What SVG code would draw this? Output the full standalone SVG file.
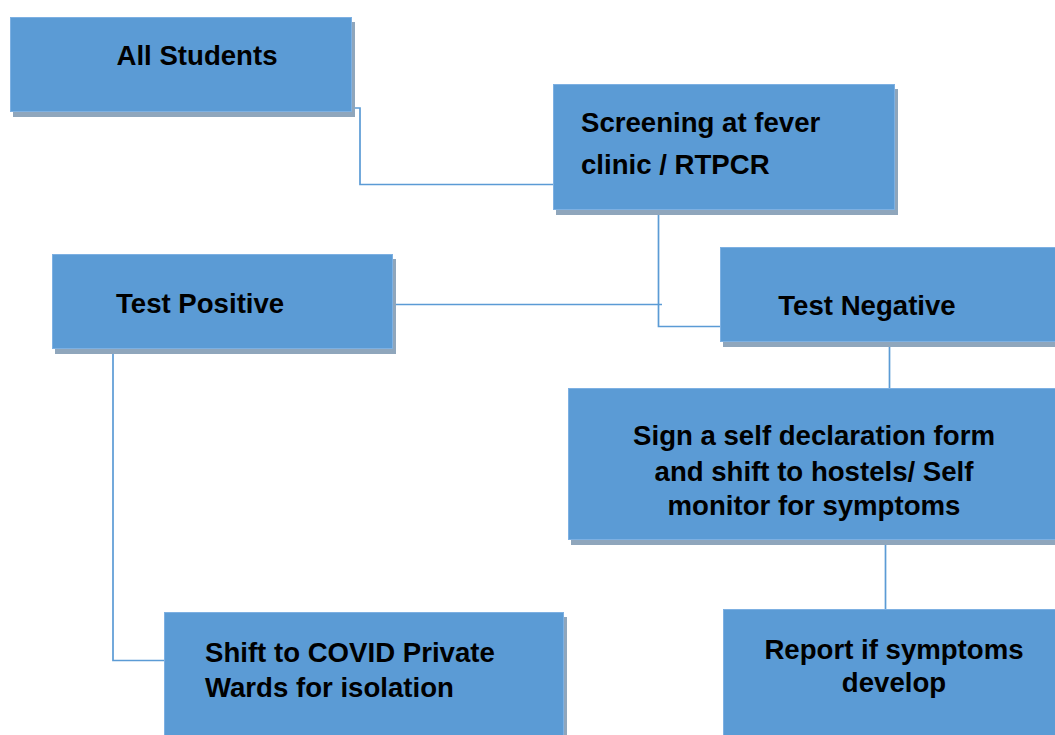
<svg xmlns="http://www.w3.org/2000/svg" width="1055" height="735" viewBox="0 0 1055 735">
<style>
.shadow{fill:#8fa6bc}
.box{fill:#5b9bd5;stroke:#7db0e2;stroke-width:1}
.t{font-family:"Liberation Sans",Arial,sans-serif;font-weight:bold;font-size:27.6px;fill:#000}
.c{text-anchor:middle}
.conn{fill:none;stroke:#5b9bd5;stroke-width:1.7}
</style>
<rect width="1055" height="735" fill="#fff"/>
<g id="connectors">
<path class="conn" d="M352,108 H360 V184.5 H554"/>
<path class="conn" d="M658.5,209 V326.5 H721"/>
<path class="conn" d="M393,304.5 H662"/>
<path class="conn" d="M889.5,342 V389"/>
<path class="conn" d="M885.5,539 V610"/>
<path class="conn" d="M113,348 V660.5 H165"/>
</g>
<g id="all-students">
<rect class="shadow" x="13" y="22" width="342" height="95"/>
<rect class="box" x="10.5" y="17.5" width="341" height="94"/>
<text class="t c" x="197" y="65">All Students</text>
</g>
<g id="screening">
<rect class="shadow" x="556" y="89" width="342" height="126"/>
<rect class="box" x="553.5" y="84.5" width="341" height="125"/>
<text class="t" x="581" y="132">Screening at fever</text>
<text class="t" x="581" y="174">clinic / RTPCR</text>
</g>
<g id="test-positive">
<rect class="shadow" x="55" y="259" width="341" height="95"/>
<rect class="box" x="52.5" y="254.5" width="340" height="94"/>
<text class="t" x="116" y="313">Test Positive</text>
</g>
<g id="test-negative">
<rect class="shadow" x="723" y="252" width="340" height="95"/>
<rect class="box" x="720.5" y="247.5" width="340" height="94"/>
<text class="t c" x="867" y="315">Test Negative</text>
</g>
<g id="self-declaration">
<rect class="shadow" x="571" y="393" width="490" height="152"/>
<rect class="box" x="568.5" y="388.5" width="490" height="151"/>
<text class="t c" x="814" y="445">Sign a self declaration form</text>
<text class="t c" x="814" y="481">and shift to hostels/ Self</text>
<text class="t c" x="814" y="515">monitor for symptoms</text>
</g>
<g id="covid-wards">
<rect class="shadow" x="167" y="617" width="400" height="130"/>
<rect class="box" x="164.5" y="612.5" width="399" height="130"/>
<text class="t" x="205" y="662">Shift to COVID Private</text>
<text class="t" x="205" y="697">Wards for isolation</text>
</g>
<g id="report">
<rect class="shadow" x="726" y="614" width="340" height="130"/>
<rect class="box" x="723.5" y="609.5" width="340" height="130"/>
<text class="t c" x="894" y="659">Report if symptoms</text>
<text class="t c" x="894" y="692">develop</text>
</g>
</svg>
